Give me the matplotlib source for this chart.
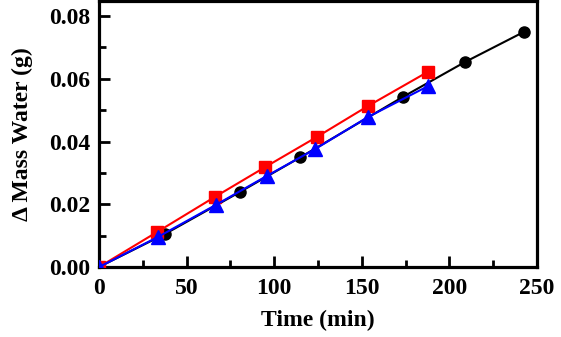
import matplotlib
matplotlib.use("Agg")
import matplotlib.pyplot as plt
from matplotlib.ticker import MultipleLocator

# data
t_black = [0, 37.6, 80.4, 115, 173.4, 208.8, 242.4]
m_black = [0, 0.0105, 0.0239, 0.0350, 0.0542, 0.0653, 0.0749]

t_red = [0, 33, 66, 95, 124.2, 153.5, 187.7]
m_red = [0, 0.0111, 0.0223, 0.0319, 0.0414, 0.0513, 0.0622]

t_blue = [0, 33.7, 66.7, 95.7, 123.4, 153.5, 188]
m_blue = [0, 0.0096, 0.0198, 0.0290, 0.0376, 0.0478, 0.0577]

plt.rcParams['font.family'] = ['Liberation Serif', 'DejaVu Serif']
plt.rcParams['font.weight'] = 'bold'

fig = plt.figure(figsize=(5.61, 3.37), dpi=100)
ax = fig.add_axes([0.1765, 0.2077, 0.7805, 0.7893])

ax.plot(t_black, m_black, color='black', lw=1.5, marker='o', ms=8, zorder=2)
ax.plot(t_red, m_red, color='red', lw=1.5, marker='s', ms=8.5, zorder=3)
ax.plot(t_blue, m_blue, color='blue', lw=1.5, marker='^', ms=9.5, zorder=4)

ax.set_xlim(0, 250)
ax.set_ylim(0, 0.0848)
ax.xaxis.set_major_locator(MultipleLocator(50))
ax.xaxis.set_minor_locator(MultipleLocator(25))
ax.yaxis.set_minor_locator(MultipleLocator(0.01))
ax.set_yticks([0, 0.02, 0.04, 0.06, 0.08])
ax.set_yticklabels(['0.00', '0.02', '0.04', '0.06', '0.08'])

for s in ax.spines.values():
    s.set_linewidth(2.3)
ax.tick_params(which='both', direction='in', top=False, right=False, width=2, labelsize=17)
ax.tick_params(which='major', length=8)
ax.tick_params(which='minor', length=5)
ax.tick_params(axis='x', pad=8)
ax.tick_params(axis='y', pad=6)

ax.set_xlabel('Time (min)', fontsize=17, fontweight='bold', labelpad=8)
ax.set_ylabel('\u0394 Mass Water (g)', fontsize=17, fontweight='bold', labelpad=12)

fig.savefig('out.png', dpi=100)
